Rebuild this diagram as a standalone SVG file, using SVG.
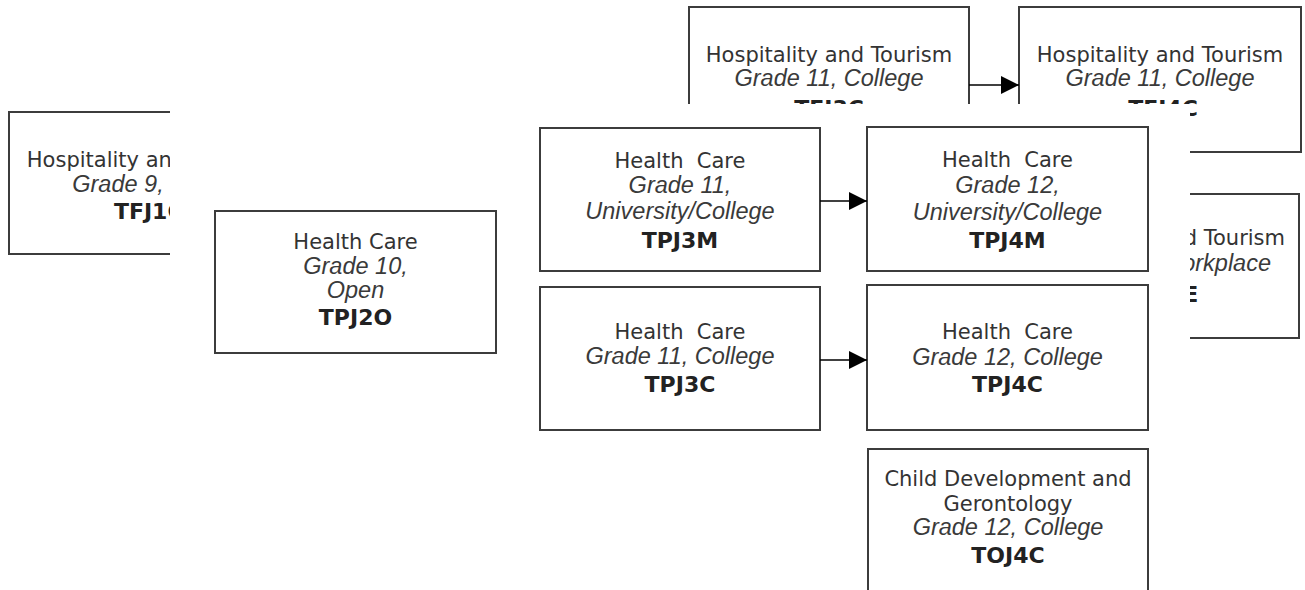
<svg xmlns="http://www.w3.org/2000/svg" width="1305" height="590" viewBox="0 0 1305 590">
  <defs>
    <style>
      .box { fill: #ffffff; stroke: #3c3c3c; stroke-width: 2; }
      .t { font-family: "DejaVu Sans", Verdana, sans-serif; font-size: 21px; fill: #333333; text-anchor: middle; white-space: pre; }
      .i { font-family: "Liberation Sans", Arial, sans-serif; font-size: 23.5px; font-style: italic; fill: #3a3a3a; text-anchor: middle; }
      .b { font-family: "DejaVu Sans", Verdana, sans-serif; font-size: 22px; font-weight: bold; fill: #222222; text-anchor: middle; }
      .end { text-anchor: end; }
      .conn { stroke: #000000; stroke-width: 1.5; fill: none; }
    </style>
    <marker id="arrow" markerUnits="userSpaceOnUse" markerWidth="18" markerHeight="18" refX="18" refY="9" orient="auto">
      <path d="M0,0 L18,9 L0,18 Z" fill="#000000"/>
    </marker>
    <clipPath id="bgclip">
      <path clip-rule="evenodd" d="M0 0H1305V590H0Z M170 104V590H1190V104Z"/>
    </clipPath>
  </defs>
  <rect x="0" y="0" width="1305" height="590" fill="#ffffff"/>

  <g id="background" clip-path="url(#bgclip)">
    <g id="TFJ1O">
      <rect class="box" x="9" y="112" width="282" height="142"/>
      <text class="t" x="150" y="167">Hospitality and Tourism</text>
      <text class="i" x="150" y="192">Grade 9, Open</text>
      <text class="b" x="150" y="219">TFJ1O</text>
    </g>
    <g id="TFJ3C">
      <rect class="box" x="689" y="7" width="280" height="145"/>
      <text class="t" x="829" y="62">Hospitality and Tourism</text>
      <text class="i" x="829" y="86">Grade 11, College</text>
      <text class="b" x="829" y="116">TFJ3C</text>
    </g>
    <g id="TFJ4C">
      <rect class="box" x="1019" y="7" width="282" height="145"/>
      <text class="t" x="1160" y="62">Hospitality and Tourism</text>
      <text class="i" x="1160" y="86">Grade 11, College</text>
      <text class="b" x="1163" y="116">TFJ4C</text>
    </g>
    <g id="TFJ3E">
      <rect class="box" x="1019" y="194" width="280" height="144"/>
      <text class="t end" x="1285" y="245">and Tourism</text>
      <text class="i end" x="1271" y="271">Workplace</text>
      <text class="b" x="1164" y="302">TFJ3E</text>
    </g>
    <g id="bg-connectors">
      <line class="conn" x1="969" y1="85" x2="1019" y2="85" marker-end="url(#arrow)"/>
    </g>
  </g>

  <g id="TPJ2O">
    <rect class="box" x="215" y="211" width="281" height="142"/>
    <text class="t" x="355.5" y="249">Health Care</text>
    <text class="i" x="355.5" y="274">Grade 10,</text>
    <text class="i" x="355.5" y="298">Open</text>
    <text class="b" x="355.5" y="325">TPJ2O</text>
  </g>
  <g id="TPJ3M">
    <rect class="box" x="540" y="128" width="280" height="143"/>
    <text class="t" x="680" y="168">Health  Care</text>
    <text class="i" x="680" y="193">Grade 11,</text>
    <text class="i" x="680" y="219">University/College</text>
    <text class="b" x="680" y="248">TPJ3M</text>
  </g>
  <g id="TPJ4M">
    <rect class="box" x="867" y="127" width="281" height="144"/>
    <text class="t" x="1007.5" y="167">Health  Care</text>
    <text class="i" x="1007.5" y="193">Grade 12,</text>
    <text class="i" x="1007.5" y="220">University/College</text>
    <text class="b" x="1007.5" y="248">TPJ4M</text>
  </g>
  <g id="TPJ3C">
    <rect class="box" x="540" y="287" width="280" height="143"/>
    <text class="t" x="680" y="339">Health  Care</text>
    <text class="i" x="680" y="364">Grade 11, College</text>
    <text class="b" x="680" y="392">TPJ3C</text>
  </g>
  <g id="TPJ4C">
    <rect class="box" x="867" y="285" width="281" height="145"/>
    <text class="t" x="1007.5" y="339">Health  Care</text>
    <text class="i" x="1007.5" y="365">Grade 12, College</text>
    <text class="b" x="1007.5" y="392">TPJ4C</text>
  </g>
  <g id="TOJ4C">
    <rect class="box" x="868" y="449" width="280" height="160"/>
    <text class="t" x="1008" y="486">Child Development and</text>
    <text class="t" x="1008" y="511">Gerontology</text>
    <text class="i" x="1008" y="535">Grade 12, College</text>
    <text class="b" x="1008" y="563">TOJ4C</text>
  </g>

  <g id="connectors">
    <line class="conn" x1="820" y1="201" x2="867" y2="201" marker-end="url(#arrow)"/>
    <line class="conn" x1="820" y1="360" x2="867" y2="360" marker-end="url(#arrow)"/>
  </g>
</svg>
